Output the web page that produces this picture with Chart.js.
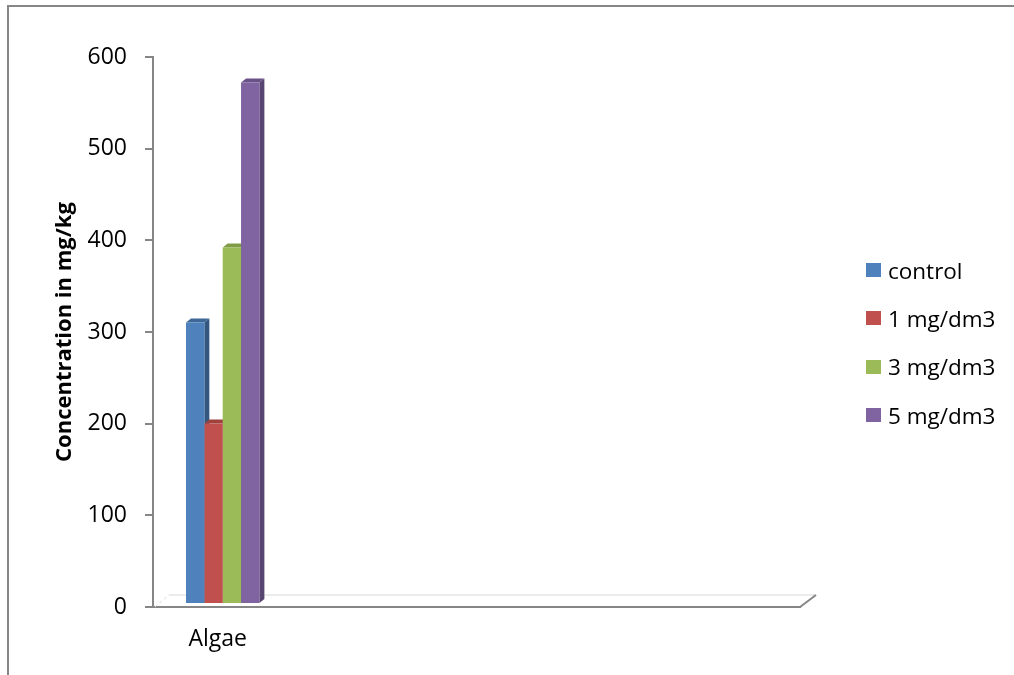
<!DOCTYPE html>
<html>
<head>
<meta charset="utf-8">
<script src="https://cdn.jsdelivr.net/npm/chart.js@4.4.0/dist/chart.umd.min.js"></script>
<style>
  html, body { margin: 0; padding: 0; overflow: hidden; background: #fff; }
  #wrap { position: relative; width: 1014px; height: 675px; overflow: hidden; }
  #frame { position: absolute; left: 7px; top: 5px; width: 1100px; height: 800px;
           border-left: 2px solid #878787; border-top: 2px solid #878787; }
  canvas { position: absolute; left: 0; top: 0; }
  #legend { position: absolute; left: 866px; top: 246px; font-family: "Open Sans", sans-serif;
            font-size: 22.5px; color: #000; }
  #legend .item { height: 48.3px; display: flex; align-items: center; white-space: nowrap; }
  #legend .box { width: 15px; height: 14px; margin-right: 7px; }
</style>
</head>
<body>
<div id="wrap">
  <div id="frame"></div>
  <canvas id="chart" width="1014" height="675"></canvas>
  <div id="legend"></div>
</div>
<script>
const categories = ['Algae', '', '', '', ''];
const seriesNames = ['control', '1 mg/dm3', '3 mg/dm3', '5 mg/dm3'];
const controlValues = [307];
const dose1Values = [197];
const dose3Values = [389];
const dose5Values = [569];
const yTicks = [0, 100, 200, 300, 400, 500, 600];

const frontColors = ['#4F81BD', '#C0504D', '#9BBB59', '#8064A2'];
const topColors = ['#3d6898', '#a0413e', '#809c47', '#6a5289'];
const sideColors = ['#34577f', '#883835', '#6d853c', '#594571'];

// 3D look: bars sit a little behind the axis plane
const shiftX = 5, shiftY = -3;
const depthX = 5, depthY = 4;
const floorX = 16, floorY = 12;

const bars3d = {
    id: 'bars3d',
    beforeDatasetsDraw(chart) {
        const ctx = chart.ctx;
        const area = chart.chartArea;

        // floor
        ctx.save();
        ctx.lineWidth = 1;
        ctx.strokeStyle = '#d9d9d9';
        ctx.beginPath();
        ctx.moveTo(area.left + floorX, area.bottom - floorY);
        ctx.lineTo(area.right + floorX, area.bottom - floorY);
        ctx.stroke();
        ctx.setLineDash([3, 3]);
        ctx.beginPath();
        ctx.moveTo(area.left + 2, area.bottom);
        ctx.lineTo(area.left + floorX, area.bottom - floorY);
        ctx.stroke();
        ctx.setLineDash([]);
        ctx.lineWidth = 2;
        ctx.strokeStyle = '#868686';
        ctx.beginPath();
        ctx.moveTo(area.right, area.bottom);
        ctx.lineTo(area.right + floorX, area.bottom - floorY);
        ctx.stroke();
        ctx.restore();

        ctx.save();
        ctx.translate(shiftX, shiftY);
        chart.data.datasets.forEach((ds, i) => {
            const meta = chart.getDatasetMeta(i);
            meta.data.forEach(bar => {
                const l = bar.x - bar.width / 2;
                const r = bar.x + bar.width / 2;
                const t = bar.y;
                const b = bar.base;
                ctx.fillStyle = sideColors[i];
                ctx.beginPath();
                ctx.moveTo(r, t);
                ctx.lineTo(r + depthX, t - depthY);
                ctx.lineTo(r + depthX, b - depthY);
                ctx.lineTo(r, b);
                ctx.closePath();
                ctx.fill();
                ctx.fillStyle = topColors[i];
                ctx.beginPath();
                ctx.moveTo(l, t);
                ctx.lineTo(l + depthX, t - depthY);
                ctx.lineTo(r + depthX, t - depthY);
                ctx.lineTo(r, t);
                ctx.closePath();
                ctx.fill();
            });
        });
    },
    afterDatasetsDraw(chart) {
        chart.ctx.restore();
    }
};

const ctx = document.getElementById('chart').getContext('2d');
const values = [controlValues, dose1Values, dose3Values, dose5Values];

const chart = new Chart(ctx, {
    type: 'bar',
    data: {
        labels: categories,
        datasets: seriesNames.map((name, i) => ({
            label: name,
            data: values[i],
            backgroundColor: frontColors[i],
            borderWidth: 0,
            categoryPercentage: 0.567,
            barPercentage: 1
        }))
    },
    options: {
        responsive: false,
        animation: false,
        layout: {
            padding: { top: 57, right: 214, left: 0, bottom: 0 }
        },
        plugins: {
            legend: { display: false },
            tooltip: { enabled: false }
        },
        scales: {
            x: {
                grid: { drawOnChartArea: false, drawTicks: false },
                border: { color: '#868686', width: 2 },
                ticks: {
                    color: '#000',
                    padding: 19,
                    maxRotation: 0,
                    autoSkip: false,
                    font: { family: 'Open Sans', size: 23 }
                },
                afterFit(scale) { scale.height = 68; }
            },
            y: {
                min: 0,
                max: 600,
                afterBuildTicks(scale) { scale.ticks = yTicks.map(v => ({ value: v })); },
                grid: { drawOnChartArea: false, color: '#868686', lineWidth: 2, tickLength: 8 },
                border: { color: '#868686', width: 2 },
                ticks: {
                    color: '#000',
                    padding: 18,
                    font: { family: 'Open Sans', size: 23 }
                },
                title: {
                    display: true,
                    text: 'Concentration in mg/kg',
                    color: '#000',
                    padding: { top: 52, bottom: 0 },
                    font: { family: 'Open Sans', size: 22, weight: 'bold' }
                },
                afterFit(scale) { scale.width = 153; }
            }
        }
    },
    plugins: [bars3d]
});

const legendEl = document.getElementById('legend');
seriesNames.forEach((name, i) => {
    const item = document.createElement('div');
    item.className = 'item';
    const box = document.createElement('span');
    box.className = 'box';
    box.style.background = frontColors[i];
    const label = document.createElement('span');
    label.textContent = name;
    item.appendChild(box);
    item.appendChild(label);
    legendEl.appendChild(item);
});
</script>
</body>
</html>
